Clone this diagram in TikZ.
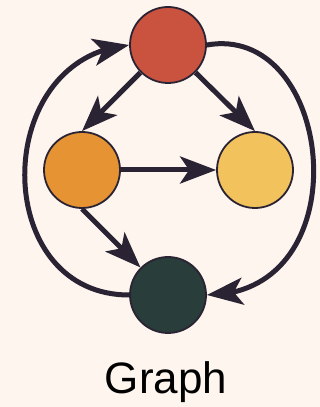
\documentclass[tikz,border=0pt]{standalone}
\usepackage{fontspec}
\setmainfont{Liberation Sans}
\usetikzlibrary{arrows.meta, bending}
\definecolor{grbg}  {HTML}{FEF5EE}
\definecolor{grink} {HTML}{2A2333}
\definecolor{grred} {HTML}{C9533F}
\definecolor{grorng}{HTML}{E69333}
\definecolor{gryell}{HTML}{F2C35D}
\definecolor{grdark}{HTML}{293D3A}
\tikzset{
  vtx/.style={circle, draw=grink, fill=#1, line width=1.8pt,
    minimum size=76pt, inner sep=0pt},
  garr/.style={-{Stealth[length=36pt,width=27pt,inset=9pt]}, line width=5pt, color=#1},
}
\begin{document}
\begin{tikzpicture}[x=1pt, y=1pt]
  \fill[grbg] (0,0) rectangle (320,407);
  \useasboundingbox (0,0) rectangle (320,407);
  \node[vtx=grred]  (top)    at (168,362) {};
  \node[vtx=grorng] (left)   at (82,237)  {};
  \node[vtx=gryell] (right)  at (255,237) {};
  \node[vtx=grdark] (bottom) at (168,112) {};
  \node[anchor=base, font=\fontsize{44}{48}\selectfont] (title) at (166,13) {Graph};
  \draw[garr=grink] (top.225) -- (left.north);
  \draw[garr=grink] (top.315) -- (right.north);
  \draw[garr=grink] (left.east) -- (right.west);
  \draw[garr=grink] (left.south) -- (bottom.135);
  % outer loops
  \draw[garr=grink] (bottom.west) to[out=180, in=185, looseness=1.43] (top.west);
  \draw[garr=grink] (top.east) to[out=10, in=0, out distance=130pt, in distance=156pt] (bottom.east);
\end{tikzpicture}
\end{document}
